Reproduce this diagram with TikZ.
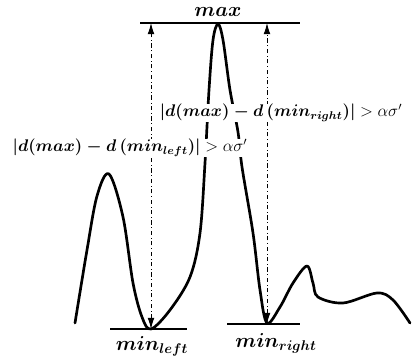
\documentclass[tikz,border=0pt]{standalone}
\usepackage{amsmath}
\usetikzlibrary{arrows.meta}
\begin{document}
\begin{tikzpicture}[x=0.025cm,y=-0.025cm,
  curve/.style={line width=1.9pt,line cap=round,line join=round},
  level/.style={line width=1.4pt},
  gap/.style={dash dot,line width=0.6pt,{Latex[length=2.8mm,width=1.7mm]}-{Latex[length=2.8mm,width=1.7mm]}},
  lbl/.style={inner sep=1pt,font=\Large},
  cond/.style={inner sep=0.5pt,font=\large,fill=white}]
\useasboundingbox (0,0) rectangle (412,361);
% extrema levels
\coordinate (maxL) at (140,23);
\coordinate (maxR) at (300,23);
\coordinate (mlL) at (110,329);
\coordinate (mlR) at (187,329);
\coordinate (mrL) at (227,324);
\coordinate (mrR) at (300,324);
\draw[level] (maxL) -- (maxR);
\draw[level] (mlL) -- (mlR);
\draw[level] (mrL) -- (mrR);
% signal curve
\draw[curve] plot[smooth,tension=0.55] coordinates {
 (75,323) (87,250) (97,196) (109,174) (123,217) (133,283) (142,317) (151,329)
 (170,310) (190,277) (200,233) (205,163) (209,90) (213,40) (218,24) (223,40)
 (230,90) (238,132) (242,167) (253,233) (260,290) (267,323)
 (280,307) (293,283) (307,266) (313,283) (318,297) (343,303) (377,293) (393,300) (410,323)};
% arrows
\coordinate (aLtop) at (151,23);
\coordinate (aLbot) at (151,329);
\coordinate (aRtop) at (267,23);
\coordinate (aRbot) at (267,324);
\draw[gap] (aLbot) -- (aLtop);
\draw[gap] (aRbot) -- (aRtop);
% labels
\node[lbl,anchor=south,inner sep=0pt] (tmax) at (218,17) {$\boldsymbol{max}$};
\node[lbl] (tml) at (152,346) {$\boldsymbol{min_{left}}$};
\node[lbl] (tmr) at (276,343) {$\boldsymbol{min_{right}}$};
\node[cond] (cr) at (281,113) {$\boldsymbol{\left|d(max)-d\left(min_{right}\right)\right|} > \alpha\sigma'$};
\node[cond] (cl) at (130,148) {$\boldsymbol{\left|d(max)-d\left(min_{left}\right)\right|} > \alpha\sigma'$};
\end{tikzpicture}
\end{document}
